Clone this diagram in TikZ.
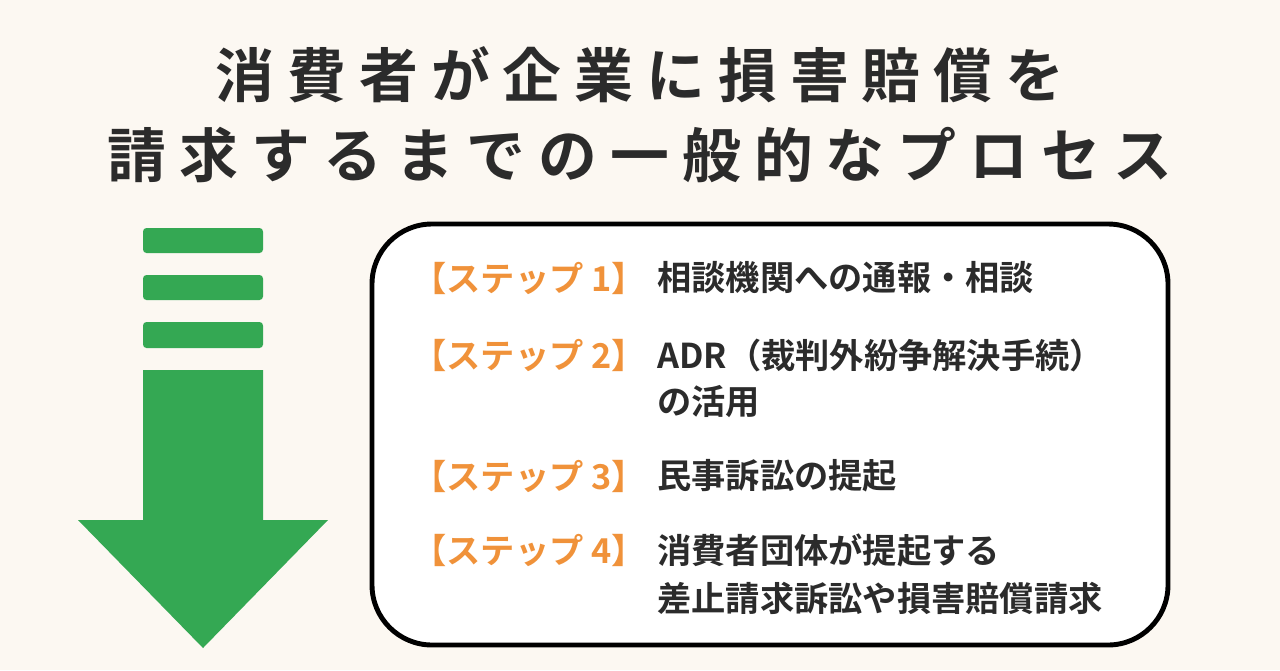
\documentclass[tikz,border=0pt]{standalone}
\usepackage{fontspec}
\setmainfont{Noto Sans CJK JP}
\newfontfamily\titlefont[LetterSpace=22]{Noto Sans CJK JP Bold}
\newfontfamily\stepfont{Noto Sans CJK JP Bold}
\usetikzlibrary{positioning}
\definecolor{bgcream}{HTML}{FCF8F2}
\definecolor{arrowgreen}{HTML}{34A853}
\definecolor{steporange}{HTML}{F0923A}
\definecolor{inkdark}{HTML}{2B2B2B}
\begin{document}
\begin{tikzpicture}[x=0.02cm, y=-0.02cm]
		\tikzset{
			title/.style={font=\titlefont\fontsize{33.5}{38}\selectfont, text=inkdark, inner sep=0},
			steplabel/.style={anchor=west, font=\stepfont\fontsize{19.5}{23}\selectfont, text=steporange, inner sep=0},
			steptext/.style={anchor=west, font=\stepfont\fontsize{19.5}{23}\selectfont, text=inkdark, inner sep=0},
			bar/.style={fill=arrowgreen, rounded corners=2pt}
		}
		\fill[bgcream] (0,0) rectangle (1280,670);
		\node[title] (T1) at (640,75)  {消費者が企業に損害賠償を};
		\node[title] (T2) at (640,155) {請求するまでの一般的なプロセス};
		% arrow
		\fill[bar] (143,228) rectangle (263,253);
		\fill[bar] (143,275) rectangle (263,300);
		\fill[bar] (143,322) rectangle (263,348);
		\fill[arrowgreen] (143,370) -- (263,370) -- (263,520) -- (328,520) -- (203,648) -- (78,520) -- (143,520) -- cycle;
		% box
		\draw[line width=2.8pt, fill=white, rounded corners=1.2cm] (372,224) rectangle (1168,645);
		\node[steplabel] (S1) at (412,278) {【ステップ 1】};
		\node[steptext]  (A1) at (657,278) {相談機関への通報・相談};
		\node[steplabel] (S2) at (412,355) {【ステップ 2】};
		\node[steptext]  (A2) at (657,355) {ADR（裁判外紛争解決手続）};
		\node[steptext]  (B2) at (657,402) {の活用};
		\node[steplabel] (S3) at (412,476) {【ステップ 3】};
		\node[steptext]  (A3) at (657,476) {民事訴訟の提起};
		\node[steplabel] (S4) at (412,550) {【ステップ 4】};
		\node[steptext]  (A4) at (657,550) {消費者団体が提起する};
		\node[steptext]  (B4) at (657,598) {差止請求訴訟や損害賠償請求};
	\end{tikzpicture}
\end{document}
